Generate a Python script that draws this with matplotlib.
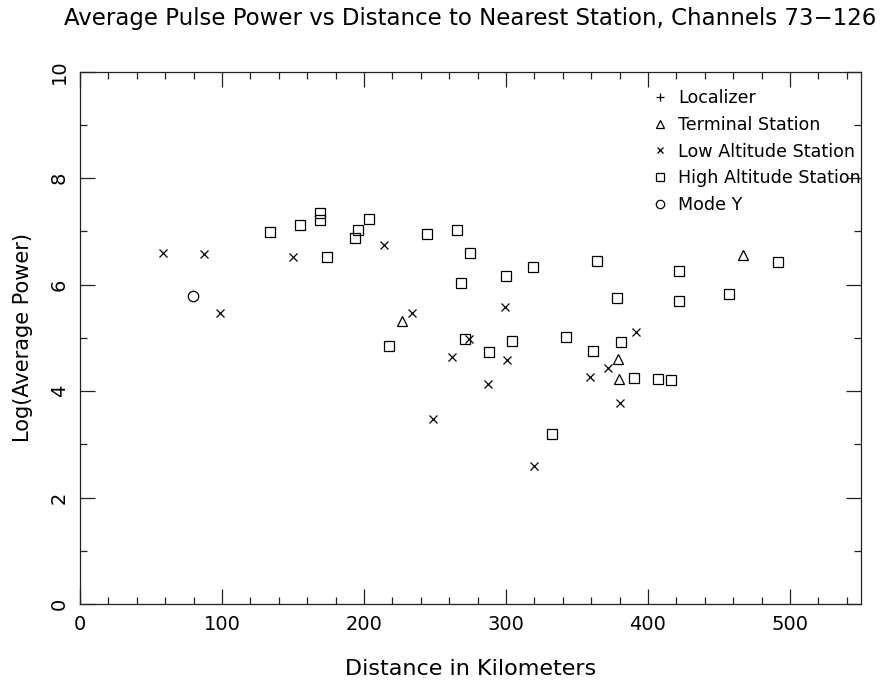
import matplotlib
matplotlib.use("Agg")
import matplotlib.pyplot as plt
from matplotlib.ticker import MultipleLocator

plt.rcParams['font.family'] = ['DejaVu Sans']

# Terminal Station (triangles)
term_x = [227, 378.6, 379.6, 466.9]
term_y = [5.32, 4.60, 4.23, 6.55]

# Low Altitude Station (x)
low_x = [58.7, 87.5, 98.8, 150.0, 213.8, 233.6, 262.2, 248.4, 274.2, 299.3,
         300.7, 287.3, 320.0, 358.9, 371.6, 380.0, 391.3]
low_y = [6.59, 6.57, 5.47, 6.52, 6.75, 5.46, 4.64, 3.47, 4.98, 5.58,
         4.59, 4.13, 2.59, 4.27, 4.43, 3.78, 5.11]

# High Altitude Station (squares)
high_x = [134.0, 154.9, 168.8, 168.8, 173.7, 193.7, 195.5, 203.5, 244.1, 217.4,
          265.3, 274.6, 268.0, 300.2, 318.8, 363.8, 377.9, 421.6, 421.6, 456.8,
          491.8, 271.1, 304.5, 288.0, 342.0, 361.3, 381.2, 389.9, 406.8, 416.4,
          332.6]
high_y = [6.98, 7.12, 7.34, 7.21, 6.52, 6.88, 7.02, 7.23, 6.95, 4.85,
          7.03, 6.60, 6.03, 6.17, 6.33, 6.44, 5.75, 6.26, 5.69, 5.83,
          6.43, 4.98, 4.95, 4.73, 5.02, 4.75, 4.93, 4.25, 4.23, 4.21,
          3.20]

# Mode Y (circles)
mode_x = [79.8]
mode_y = [5.78]

# Localizer (none plotted)
loc_x = []
loc_y = []

legend_labels = ["Localizer", "Terminal Station", "Low Altitude Station",
                 "High Altitude Station", "Mode Y"]

fig = plt.figure(figsize=(8.83, 6.84), dpi=100)
ax = fig.add_axes([80/883, 1-604/684, (861-80)/883, (604-71.7)/684])

kw = dict(linestyle='none', markerfacecolor='none', markeredgecolor='black',
          color='black', markeredgewidth=0.9)
h0, = ax.plot(loc_x, loc_y, marker='+', markersize=7, **kw)
h1, = ax.plot(term_x, term_y, marker='^', markersize=7.5, **kw)
h2, = ax.plot(low_x, low_y, marker='x', markersize=6.2, **kw)
h3, = ax.plot(high_x, high_y, marker='s', markersize=7, **kw)
h4, = ax.plot(mode_x, mode_y, marker='o', markersize=7.5, **kw)

ax.set_xlim(0, 550)
ax.set_ylim(0, 10)
ax.xaxis.set_major_locator(MultipleLocator(100))
ax.xaxis.set_minor_locator(MultipleLocator(20))
ax.yaxis.set_major_locator(MultipleLocator(2))
ax.yaxis.set_minor_locator(MultipleLocator(1))
ax.tick_params(which='both', direction='in', top=True, right=True,
               color='#222222', width=0.9)
ax.tick_params(which='major', length=11, labelsize=14, pad=8)
ax.tick_params(which='minor', length=5)
for lab in ax.get_yticklabels():
    lab.set_rotation(90)
    lab.set_va('center')
for s in ax.spines.values():
    s.set_color('#222222')
    s.set_linewidth(0.9)

ax.set_xlabel("Distance in Kilometers", fontsize=16, labelpad=18)
ax.set_ylabel("Log(Average Power)", fontsize=15, labelpad=12)
fig.suptitle("Average Pulse Power vs Distance to Nearest Station, Channels 73\u2212126",
             fontsize=16.5, x=0.532, y=0.99)

leg = ax.legend([h0, h1, h2, h3, h4], legend_labels, loc='upper left',
                bbox_to_anchor=((656-80)/781, 1 - (89-71.7)/532.3),
                frameon=False, fontsize=12.6, handlelength=0.5,
                handletextpad=0.75, labelspacing=0.5, markerscale=0.8,
                borderaxespad=0, borderpad=0)

fig.savefig("out.png", dpi=100)
